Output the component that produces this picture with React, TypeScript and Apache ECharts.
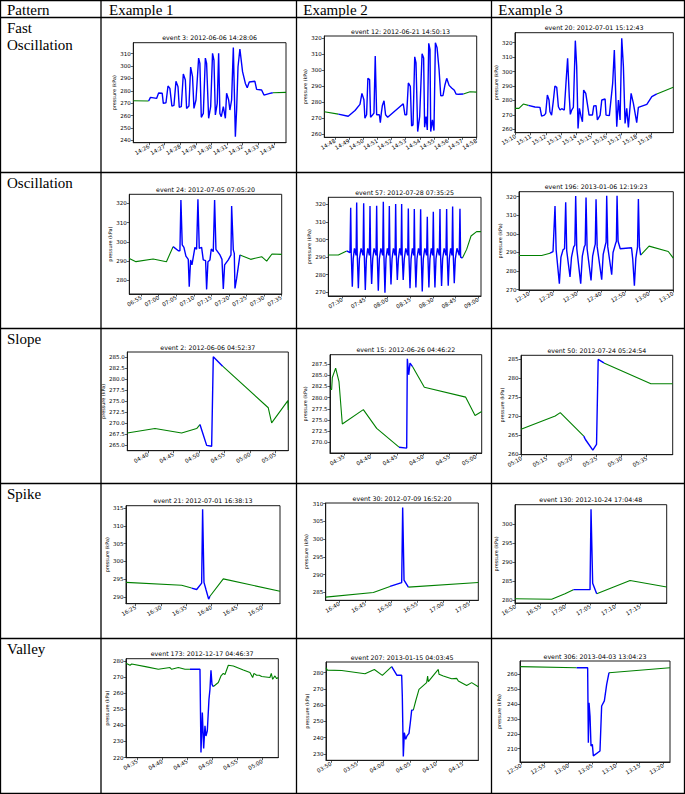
import React, { useEffect, useRef } from "react";
import * as echarts from "echarts";

// ---------- table text ----------
const headerLabels = ["Pattern", "Example 1", "Example 2", "Example 3"];
const rowLabels = [["Fast", "Oscillation"], ["Oscillation"], ["Slope"], ["Spike"], ["Valley"]];

// ---------- chart titles ----------
const titles = [
  "event 3: 2012-06-06 14:28:06",
  "event 12: 2012-06-21 14:50:13",
  "event 20: 2012-07-01 15:12:43",
  "event 24: 2012-07-05 07:05:20",
  "event 57: 2012-07-28 07:35:25",
  "event 196: 2013-01-06 12:19:23",
  "event 2: 2012-06-06 04:52:37",
  "event 15: 2012-06-26 04:46:22",
  "event 50: 2012-07-24 05:24:54",
  "event 21: 2012-07-01 16:38:13",
  "event 30: 2012-07-09 16:52:20",
  "event 130: 2012-10-24 17:04:48",
  "event 173: 2012-12-17 04:46:37",
  "event 207: 2013-01-15 04:03:45",
  "event 306: 2013-04-03 13:04:23",
];

// x values: minutes after the base hour; y values: pressure (kPa)
// ---------- Fast oscillation ----------
const fo1Pre = [[25.0, 272.0], [25.98, 271.8]];
const fo1Event = [[25.98, 271.8], [26.1, 274.7], [26.49, 273.9], [26.62, 278.2], [26.85, 278.0], [26.92, 269.9], [27.09, 270.4], [27.22, 283.9], [27.34, 282.0], [27.47, 267.7], [27.6, 268.3], [27.73, 287.7], [27.86, 283.3], [27.94, 266.7], [28.07, 267.2], [28.2, 293.6], [28.33, 288.7], [28.41, 265.8], [28.56, 267.7], [28.67, 299.2], [28.79, 291.4], [28.88, 265.8], [29.01, 272.6], [29.18, 306.5], [29.26, 302.2], [29.35, 258.6], [29.48, 261.8], [29.61, 306.5], [29.69, 302.2], [29.82, 257.8], [29.95, 267.2], [30.07, 310.3], [30.16, 304.9], [30.25, 260.5], [30.37, 269.9], [30.46, 310.3], [30.54, 261.8], [30.63, 259.1], [30.76, 267.2], [30.89, 257.8], [30.97, 278.0], [31.1, 272.6], [31.18, 264.5], [31.29, 272.6], [31.4, 315.1], [31.53, 243.0], [31.61, 264.5], [31.7, 299.5], [31.82, 313.8], [31.99, 295.5], [32.17, 286.0], [32.29, 282.5], [32.42, 287.1], [32.78, 287.7], [32.89, 281.2], [33.21, 280.7], [33.36, 276.6], [33.74, 278.0], [33.92, 278.5]];
const fo1Post = [[33.92, 278.5], [34.77, 278.8]];

const fo2Pre = [[47.25, 274.1], [48.24, 272.6]];
const fo2Event = [[48.24, 272.6], [48.94, 271.3], [49.42, 274.9], [49.77, 278.7], [49.91, 285.6], [50.05, 281.6], [50.12, 270.1], [50.24, 272.2], [50.33, 295.0], [50.45, 294.2], [50.52, 270.7], [50.67, 272.2], [50.76, 273.2], [50.85, 308.9], [50.95, 272.2], [51.14, 272.2], [51.21, 267.3], [51.28, 273.2], [51.35, 277.8], [51.47, 281.0], [51.58, 272.2], [51.73, 270.7], [52.83, 279.1], [52.95, 272.2], [53.07, 272.2], [53.19, 292.1], [53.33, 290.0], [53.42, 265.2], [53.52, 265.9], [53.64, 308.5], [53.73, 304.7], [53.85, 261.7], [53.99, 271.1], [54.16, 310.4], [54.27, 307.8], [54.34, 264.4], [54.44, 271.1], [54.53, 262.7], [54.63, 316.9], [54.72, 313.1], [54.77, 261.7], [54.89, 269.0], [55.0, 262.3], [55.1, 317.3], [55.22, 314.1], [55.36, 300.5], [55.48, 284.1], [55.64, 284.3], [55.78, 291.0], [55.9, 295.0], [56.07, 290.6], [56.25, 289.0], [56.44, 287.5], [56.56, 285.2], [56.73, 285.0], [57.08, 285.2]];
const fo2Post = [[57.08, 285.2], [57.55, 286.6], [58.02, 286.4]];

const fo3Pre = [[9.96, 274.5], [10.22, 274.5], [10.51, 277.5], [10.84, 276.6]];
const fo3Event = [[10.84, 276.6], [11.28, 275.5], [11.61, 275.2], [11.72, 269.2], [11.9, 269.9], [11.99, 271.1], [12.1, 283.8], [12.21, 280.3], [12.27, 272.2], [12.38, 269.9], [12.49, 279.2], [12.6, 290.0], [12.72, 289.1], [12.83, 275.7], [12.94, 273.4], [13.05, 274.3], [13.22, 273.4], [13.33, 291.8], [13.44, 309.2], [13.55, 282.6], [13.62, 270.4], [13.71, 273.4], [13.82, 275.2], [13.95, 321.4], [14.04, 303.4], [14.13, 260.7], [14.22, 274.5], [14.33, 268.8], [14.42, 265.3], [14.5, 287.2], [14.64, 284.9], [14.86, 269.9], [15.08, 269.9], [15.17, 276.2], [15.32, 276.4], [15.41, 266.5], [15.59, 269.9], [15.7, 280.3], [15.92, 281.0], [15.98, 269.9], [16.2, 269.5], [16.42, 291.8], [16.53, 314.9], [16.69, 261.8], [16.8, 280.3], [16.91, 266.5], [17.02, 323.0], [17.13, 303.4], [17.24, 264.1], [17.35, 274.5], [17.46, 261.4], [17.64, 284.9], [17.79, 278.0], [18.01, 264.6], [18.12, 275.2], [18.68, 277.3], [19.01, 282.6], [19.34, 284.5]];
const fo3Post = [[19.34, 284.5], [20.43, 289.1]];

// ---------- Oscillation ----------
const os1Pre = [[51.6, 291.4], [53.5, 289.7], [58.4, 291.1], [62.2, 289.7], [64.1, 297.5]];
const os1Event = [[64.1, 297.5], [65.6, 295.4], [66.05, 295.4], [66.33, 321.7], [66.71, 298.4], [67.19, 297.1], [67.76, 292.6], [68.43, 290.9], [68.71, 276.7], [69.1, 290.6], [69.48, 288.0], [70.33, 297.1], [70.81, 296.1], [71.19, 322.1], [71.57, 296.6], [72.24, 297.1], [72.71, 290.6], [73.38, 290.2], [73.67, 275.3], [74.05, 289.7], [74.62, 290.6], [75.0, 296.3], [75.57, 294.9], [75.95, 321.7], [76.33, 296.1], [77.48, 293.2], [78.05, 290.9], [78.43, 275.5], [78.81, 288.0], [79.86, 290.6], [80.62, 293.2], [80.81, 318.6], [81.29, 295.8], [81.57, 294.0], [81.76, 275.8], [82.24, 281.0], [83.19, 293.2]];
const os1Post = [[83.19, 293.2], [86.24, 290.9], [89.38, 292.3], [90.81, 290.0], [92.33, 293.7], [95.1, 293.5]];

const os2Pre = [[20.7, 291.2], [27.35, 291.2], [32.87, 293.5]];
const os2Event = [[32.87, 293.5], [35.07, 292.5], [35.52, 318.1], [35.9, 292], [36.6, 273.2], [37.2, 289], [38.0, 295], [39.1, 291], [39.49, 321.1], [39.85, 292], [40.6, 272.3], [41.3, 289], [42.4, 295], [43.7, 291], [44.12, 320.6], [44.5, 292], [45.2, 271.3], [45.9, 289], [46.8, 295], [47.9, 291], [48.31, 319.1], [48.7, 292], [49.4, 274.7], [50.1, 289], [51.0, 295], [52.3, 291], [52.72, 319.2], [53.1, 292], [53.8, 270.9], [54.5, 289], [55.5, 295], [56.7, 291], [57.13, 321.5], [57.5, 292], [58.2, 269.8], [58.9, 289], [59.8, 295], [60.7, 291], [61.11, 319.1], [61.5, 292], [62.2, 274.5], [62.9, 289], [63.8, 295], [64.9, 291], [65.3, 320.2], [65.7, 292], [66.4, 277.0], [67.1, 289], [68.0, 295], [68.9, 291], [69.27, 320.2], [69.6, 292], [70.3, 277.0], [71.0, 289], [72.0, 295], [73.3, 291], [73.68, 317.7], [74.05, 292], [74.8, 272.3], [75.5, 289], [76.4, 295], [77.3, 291], [77.65, 317.3], [78.0, 292], [78.7, 272.8], [79.4, 289], [80.4, 295], [81.4, 291], [81.84, 317.2], [82.2, 292], [82.9, 270.4], [83.6, 289], [84.6, 295], [85.8, 291], [86.25, 313.0], [86.6, 292], [87.3, 272.8], [88.0, 289], [88.9, 295], [89.8, 291], [90.23, 315.8], [90.6, 292], [91.3, 272.8], [92.0, 289], [93.0, 295], [94.2, 291], [94.64, 317.3], [95.0, 292], [95.7, 273.6], [96.4, 289], [97.4, 295], [98.6, 291], [99.05, 317.3], [99.4, 292], [100.1, 273.8], [100.8, 289], [101.7, 295], [102.6, 291], [103.02, 318.7], [103.4, 292], [104.1, 275.1], [104.8, 289], [105.9, 295], [107.4, 291], [107.87, 317.5], [108.3, 290], [109.5, 289.5]];
const os2Post = [[109.5, 289.5], [112.3, 294.4], [115.2, 302.0], [118.9, 304.5], [121.8, 304.5]];

const os3Pre = [[5.83, 288.4], [15.28, 288.4], [18.75, 289.6]];
const os3Event = [[18.75, 289.6], [20.0, 290.5], [20.83, 315.0], [21.3, 291.4], [22.64, 273.2], [23.3, 287.5], [24.2, 291.5], [24.8, 292], [25.28, 317.0], [25.7, 291], [27.08, 276.8], [27.7, 287.5], [28.6, 293], [29.1, 294], [29.44, 320.4], [29.9, 292], [31.53, 273.2], [32.2, 288], [33.0, 293], [33.4, 294], [33.75, 319.6], [34.2, 292], [35.83, 275.0], [36.5, 288], [37.3, 293], [37.6, 294.5], [37.92, 318.6], [38.4, 293], [40.28, 275.4], [40.9, 289], [41.8, 294], [42.1, 295.5], [42.36, 320.5], [42.8, 293], [44.44, 278.0], [45.0, 290], [46.0, 294.5], [46.4, 296], [46.67, 320.5], [47.1, 296], [48.0, 292], [52.7, 292.5], [53.2, 286.5], [53.89, 272.1], [54.5, 287], [55.2, 293], [55.56, 318.8], [56.0, 293], [56.5, 288.6]];
const os3Post = [[56.5, 288.6], [60.0, 293.4], [68.0, 290.5], [70.1, 287.0]];

// ---------- Slope ----------
const sl1Pre = [[35.95, 267.8], [41.37, 268.8], [46.59, 267.8], [49.53, 268.8], [50.18, 269.7]];
const sl1Event = [[50.18, 269.7], [51.49, 265.0], [52.47, 264.8], [52.79, 285.0], [54.62, 282.9]];
const sl1Post = [[54.62, 282.9], [63.56, 273.5], [64.22, 270.1], [67.4, 275.1], [67.48, 273.0]];

const sl2Pre = [[32.35, 281.8], [32.66, 281.8], [32.79, 284.5], [33.42, 286.6], [34.05, 283.6], [34.68, 274.1], [38.66, 277.3], [41.19, 273.1], [45.42, 268.9]];
const sl2Event = [[45.42, 268.9], [46.87, 268.7], [46.99, 288.7], [47.25, 285.1], [47.5, 287.7], [47.94, 287.0]];
const sl2Post = [[47.94, 287.0], [50.21, 282.3], [58.04, 280.1], [59.81, 276.0], [61.07, 276.9]];

const sl3Pre = [[9.87, 266.6], [16.71, 270.1], [17.72, 271.0], [22.42, 264.8]];
const sl3Event = [[22.42, 264.8], [22.75, 263.9], [24.23, 261.1], [24.97, 262.6], [25.3, 285.0], [26.44, 284.1]];
const sl3Post = [[26.44, 284.1], [35.84, 278.6], [40.2, 278.6]];

// ---------- Spike ----------
const sp1Pre = [[23.09, 294.1], [34.08, 293.3], [36.05, 292.5]];
const sp1Event = [[36.05, 292.5], [37.04, 292.1], [38.03, 293.9], [38.22, 314.7], [38.49, 294.1], [38.88, 292.1], [39.41, 289.4], [39.67, 290.2]];
const sp1Post = [[39.67, 290.2], [42.3, 295.1], [53.5, 291.6]];

const sp2Pre = [[37.37, 283.7], [46.54, 285.0], [49.74, 286.7]];
const sp2Event = [[49.74, 286.7], [51.99, 287.8], [52.18, 308.9], [52.44, 288.5], [53.27, 286.5]];
const sp2Post = [[53.27, 286.5], [66.73, 287.8]];

const sp3Pre = [[49.87, 280.4], [57.24, 280.3], [59.92, 281.7], [61.6, 282.8]];
const sp3Event = [[61.6, 282.8], [64.95, 282.8], [65.15, 303.9], [65.48, 284.5], [66.29, 281.7]];
const sp3Post = [[66.29, 281.7], [73.0, 285.2], [80.36, 283.5]];

// ---------- Valley ----------
const va1Pre = [[32.73, 278.6], [33.53, 277.3], [33.87, 278.1], [36.87, 276.3], [39.2, 274.8], [41.53, 275.9], [41.87, 274.8], [43.2, 275.9], [44.53, 274.8], [45.53, 274.8]];
const va1Event = [[45.53, 274.8], [47.53, 274.8], [47.73, 223.1], [48.0, 247.9], [48.27, 225.6], [48.53, 239.7], [48.73, 233.4], [49.0, 236.6], [49.33, 256.2], [49.53, 262.4], [49.73, 274.2], [49.93, 265.5], [50.2, 264.1]];
const va1Post = [[50.2, 264.1], [50.53, 264.9], [51.2, 266.6], [51.73, 270.7], [52.2, 272.3], [52.53, 271.6], [53.2, 277.3], [54.2, 276.9], [56.2, 274.4], [57.53, 272.8], [58.07, 269.7], [58.33, 272.3], [58.87, 271.1], [59.4, 271.1], [59.87, 270.3], [61.53, 269.7], [61.8, 272.3], [62.07, 268.6], [62.53, 270.7], [62.87, 269.0], [63.2, 269.7]];

const va2Pre = [[49.05, 283.1], [49.3, 281.6], [52.03, 281.4], [56.46, 279.4], [58.23, 282.0], [59.75, 278.4], [61.52, 283.7]];
const va2Event = [[61.52, 283.7], [62.53, 278.4], [63.42, 278.4], [63.54, 265.7], [63.73, 228.4], [63.92, 243.1], [64.18, 239.0], [64.43, 241.1], [64.81, 242.7], [65.06, 249.2], [65.32, 257.0], [65.63, 257.0]];
const va2Post = [[65.63, 257.0], [66.08, 262.6], [66.71, 269.8], [68.16, 273.9], [68.35, 278.0], [68.48, 274.5], [69.75, 279.6], [70.38, 282.0], [70.51, 279.0], [71.33, 278.0], [72.91, 276.3], [73.86, 276.5], [74.18, 274.9], [75.76, 272.2], [76.71, 273.9], [77.97, 271.4]];

const va3Pre = [[49.79, 265.2], [61.73, 264.5]];
const va3Event = [[61.73, 264.5], [64.04, 264.5], [64.19, 214.0], [64.33, 240.9], [64.54, 232.0], [64.75, 211.8], [65.03, 212.9], [65.24, 205.1], [66.64, 208.4], [66.99, 238.7], [67.56, 242.1], [68.05, 253.3], [68.54, 261.1]];
const va3Post = [[68.54, 261.1], [81.39, 264.5]];

// ---------- tick values ----------
const fo1XTicks = [26, 27, 28, 29, 30, 31, 32, 33, 34];
const fo1YTicks = [240, 250, 260, 270, 280, 290, 300, 310];
const fo2XTicks = [48, 49, 50, 51, 52, 53, 54, 55, 56, 57, 58];
const fo2YTicks = [260, 270, 280, 290, 300, 310, 320];
const fo3XTicks = [10, 11, 12, 13, 14, 15, 16, 17, 18, 19];
const fo3YTicks = [260, 270, 280, 290, 300, 310, 320];
const os1XTicks = [55, 60, 65, 70, 75, 80, 85, 90, 95];
const os1YTicks = [280, 290, 300, 310, 320];
const os2XTicks = [30, 45, 60, 75, 90, 105, 120];
const os2YTicks = [270, 280, 290, 300, 310, 320];
const os3XTicks = [10, 20, 30, 40, 50, 60, 70];
const os3YTicks = [270, 280, 290, 300, 310, 320];
const sl1XTicks = [40, 45, 50, 55, 60, 65];
const sl1YTicks = [265, 267.5, 270, 272.5, 275, 277.5, 280, 282.5, 285];
const sl2XTicks = [35, 40, 45, 50, 55, 60];
const sl2YTicks = [270, 272.5, 275, 277.5, 280, 282.5, 285, 287.5];
const sl3XTicks = [10, 15, 20, 25, 30, 35];
const sl3YTicks = [260, 265, 270, 275, 280, 285];
const sp1XTicks = [25, 30, 35, 40, 45, 50];
const sp1YTicks = [290, 295, 300, 305, 310, 315];
const sp2XTicks = [40, 45, 50, 55, 60, 65];
const sp2YTicks = [285, 290, 295, 300, 305, 310];
const sp3XTicks = [50, 55, 60, 65, 70, 75];
const sp3YTicks = [280, 285, 290, 295, 300];
const va1XTicks = [35, 40, 45, 50, 55, 60];
const va1YTicks = [220, 230, 240, 250, 260, 270, 280];
const va2XTicks = [50, 55, 60, 65, 70, 75];
const va2YTicks = [230, 240, 250, 260, 270, 280];
const va3XTicks = [50, 55, 60, 65, 70, 75, 80];
const va3YTicks = [210, 220, 230, 240, 250, 260];

// ---------- panel layout (box: left, top, right, bottom in px) ----------
const panels = [
  { pre: fo1Pre, ev: fo1Event, post: fo1Post, xt: fo1XTicks, yt: fo1YTicks, base: 14, xr: [25.0, 34.77], yr: [238.1, 318.9], dec: 0, box: [133.3, 42.7, 286, 142.7], gap: 15.5 },
  { pre: fo2Pre, ev: fo2Event, post: fo2Post, xt: fo2XTicks, yt: fo2YTicks, base: 14, xr: [47.25, 58.02], yr: [258.1, 321.5], dec: 0, box: [324.3, 36, 476.7, 137.3], gap: 15.5 },
  { pre: fo3Pre, ev: fo3Event, post: fo3Post, xt: fo3XTicks, yt: fo3YTicks, base: 15, xr: [9.96, 20.43], yr: [257.7, 326.9], dec: 0, box: [515, 32.7, 673.3, 132.7], gap: 11 },
  { pre: os1Pre, ev: os1Event, post: os1Post, xt: os1XTicks, yt: os1YTicks, base: 6, xr: [51.6, 95.1], yr: [272.9, 324.7], dec: 0, box: [129.3, 194.3, 281.7, 294], gap: 14 },
  { pre: os2Pre, ev: os2Event, post: os2Post, xt: os2XTicks, yt: os2YTicks, base: 7, xr: [20.7, 121.8], yr: [267.9, 324], dec: 0, box: [328.3, 197.3, 481, 296], gap: 15.5 },
  { pre: os3Pre, ev: os3Event, post: os3Post, xt: os3XTicks, yt: os3YTicks, base: 12, xr: [5.83, 70.1], yr: [269.8, 322.7], dec: 0, box: [519, 191.7, 673.3, 290], gap: 14.5 },
  { pre: sl1Pre, ev: sl1Event, post: sl1Post, xt: sl1XTicks, yt: sl1YTicks, base: 4, xr: [35.95, 67.48], yr: [263.8, 286.1], dec: 1, box: [127.3, 352, 288.3, 450.7], gap: 12 },
  { pre: sl2Pre, ev: sl2Event, post: sl2Post, xt: sl2XTicks, yt: sl2YTicks, base: 4, xr: [32.35, 61.07], yr: [267.6, 289.6], dec: 1, box: [330, 354.7, 481.7, 453], gap: 20.5 },
  { pre: sl3Pre, ev: sl3Event, post: sl3Post, xt: sl3XTicks, yt: sl3YTicks, base: 5, xr: [9.87, 40.2], yr: [259.9, 286.1], dec: 0, box: [521, 355.3, 672.7, 454.7], gap: 16.5 },
  { pre: sp1Pre, ev: sp1Event, post: sp1Post, xt: sp1XTicks, yt: sp1YTicks, base: 16, xr: [23.09, 53.5], yr: [288.1, 315.7], dec: 0, box: [126, 505.7, 280, 603.7], gap: 16 },
  { pre: sp2Pre, ev: sp2Event, post: sp2Post, xt: sp2XTicks, yt: sp2YTicks, base: 16, xr: [37.37, 66.73], yr: [282.8, 310.2], dec: 0, box: [325.7, 503, 478.3, 600.3], gap: 16 },
  { pre: sp3Pre, ev: sp3Event, post: sp3Post, xt: sp3XTicks, yt: sp3YTicks, base: 16, xr: [49.87, 80.36], yr: [279.3, 305.1], dec: 0, box: [515, 504.7, 666.7, 603], gap: 17 },
  { pre: va1Pre, ev: va1Event, post: va1Post, xt: va1XTicks, yt: va1YTicks, base: 4, xr: [32.73, 63.2], yr: [219.9, 281.4], dec: 0, box: [126, 658.7, 278.3, 757.7], gap: 16.5 },
  { pre: va2Pre, ev: va2Event, post: va2Post, xt: va2XTicks, yt: va2YTicks, base: 3, xr: [49.05, 77.97], yr: [226.1, 286.6], dec: 0, box: [326, 662, 478.3, 760.3], gap: 16.5 },
  { pre: va3Pre, ev: va3Event, post: va3Post, xt: va3XTicks, yt: va3YTicks, base: 12, xr: [49.79, 81.39], yr: [201.0, 269.0], dec: 0, box: [520, 661, 670, 762], gap: 19 },
];

// table grid lines
const hLines = [0.5, 17.5, 172.5, 328.5, 483.5, 638.5, 793.5];
const vLines = [0.5, 101, 296.5, 491.5, 684.5];
const headerX = [7, 109, 303.3, 498.3];
const rowBaselines = [[32.7, 50], [187.5], [343.5], [498.5], [653.5]];

const pad2 = (n: number) => String(n).padStart(2, "0");
const timeFmt = (base: number) => (v: number) => {
  const hh = Math.floor((v + 1e-6) / 60);
  const mm = Math.round(v - hh * 60);
  return `${pad2(base + hh)}:${pad2(mm)}`;
};

const SANS = "DejaVu Sans";
const SERIF = "Liberation Serif";

function buildOption() {
  const grid: any[] = [];
  const xAxis: any[] = [];
  const yAxis: any[] = [];
  const series: any[] = [];
  const graphic: any[] = [];

  panels.forEach((p, i) => {
    const [l, t, r, b] = p.box;
    grid.push({
      left: l, top: t, width: r - l, height: b - t,
      show: true, borderColor: "#1a1a1a", borderWidth: 1, backgroundColor: "rgba(0,0,0,0)",
    });
    xAxis.push({
      type: "value", gridIndex: i, min: p.xr[0], max: p.xr[1],
      axisLine: { show: true, lineStyle: { color: "#1a1a1a", width: 1 } },
      splitLine: { show: false },
      axisTick: { show: true, customValues: p.xt, length: 2.5, lineStyle: { color: "#1a1a1a", width: 0.7 } },
      axisLabel: {
        customValues: p.xt, rotate: 30, margin: 3, fontSize: 5.5, color: "#000",
        fontFamily: SANS, formatter: timeFmt(p.base),
      },
    });
    yAxis.push({
      type: "value", gridIndex: i, min: p.yr[0], max: p.yr[1],
      axisLine: { show: true, lineStyle: { color: "#1a1a1a", width: 1 } },
      splitLine: { show: false },
      axisTick: { show: true, customValues: p.yt, length: 2.5, lineStyle: { color: "#1a1a1a", width: 0.7 } },
      axisLabel: {
        customValues: p.yt, margin: 2.5, fontSize: 5.5, color: "#000", fontFamily: SANS,
        formatter: (v: number) => v.toFixed(p.dec),
      },
      name: "pressure (kPa)", nameLocation: "middle", nameGap: p.gap,
      nameTextStyle: { fontSize: 4.9, color: "#000", fontFamily: SANS },
    });
    const common = { type: "line", xAxisIndex: i, yAxisIndex: i, showSymbol: false, symbol: "none", silent: true };
    series.push({ ...common, data: p.pre, lineStyle: { color: "#008000", width: 1.1 }, z: 2 });
    series.push({ ...common, data: p.post, lineStyle: { color: "#008000", width: 1.1 }, z: 2 });
    series.push({ ...common, data: p.ev, lineStyle: { color: "#0000ff", width: 1.4 }, z: 3 });

    graphic.push({
      type: "text", x: (l + r) / 2, y: t - 5, silent: true,
      style: { text: titles[i], fontSize: 6.3, fontFamily: SANS, fill: "#000", align: "center", verticalAlign: "middle" },
    });
  });

  hLines.forEach((y) => {
    graphic.push({ type: "line", silent: true, shape: { x1: 0, y1: y, x2: 685, y2: y }, style: { stroke: "#000", lineWidth: 1.3 } });
  });
  vLines.forEach((x) => {
    graphic.push({ type: "line", silent: true, shape: { x1: x, y1: 0, x2: x, y2: 794 }, style: { stroke: "#000", lineWidth: 1.3 } });
  });
  headerLabels.forEach((txt, k) => {
    graphic.push({
      type: "text", x: headerX[k], y: 15 - 5, silent: true,
      style: { text: txt, fontSize: 15, fontFamily: SERIF, fill: "#000", align: "left", verticalAlign: "middle" },
    });
  });
  rowLabels.forEach((lines, r) => {
    lines.forEach((txt, j) => {
      graphic.push({
        type: "text", x: 7, y: rowBaselines[r][j] - 5, silent: true,
        style: { text: txt, fontSize: 15, fontFamily: SERIF, fill: "#000", align: "left", verticalAlign: "middle" },
      });
    });
  });

  return { animation: false, backgroundColor: "#fff", grid, xAxis, yAxis, series, graphic };
}

export default function App() {
  const ref = useRef<HTMLDivElement>(null);
  useEffect(() => {
    if (!ref.current) return;
    const chart = echarts.init(ref.current, null, { renderer: "svg" });
    chart.setOption(buildOption() as any);
    return () => chart.dispose();
  }, []);
  return (
    <div
      ref={ref}
      style={{ position: "fixed", left: 0, top: 0, width: 685, height: 794, background: "#fff" }}
    />
  );
}
